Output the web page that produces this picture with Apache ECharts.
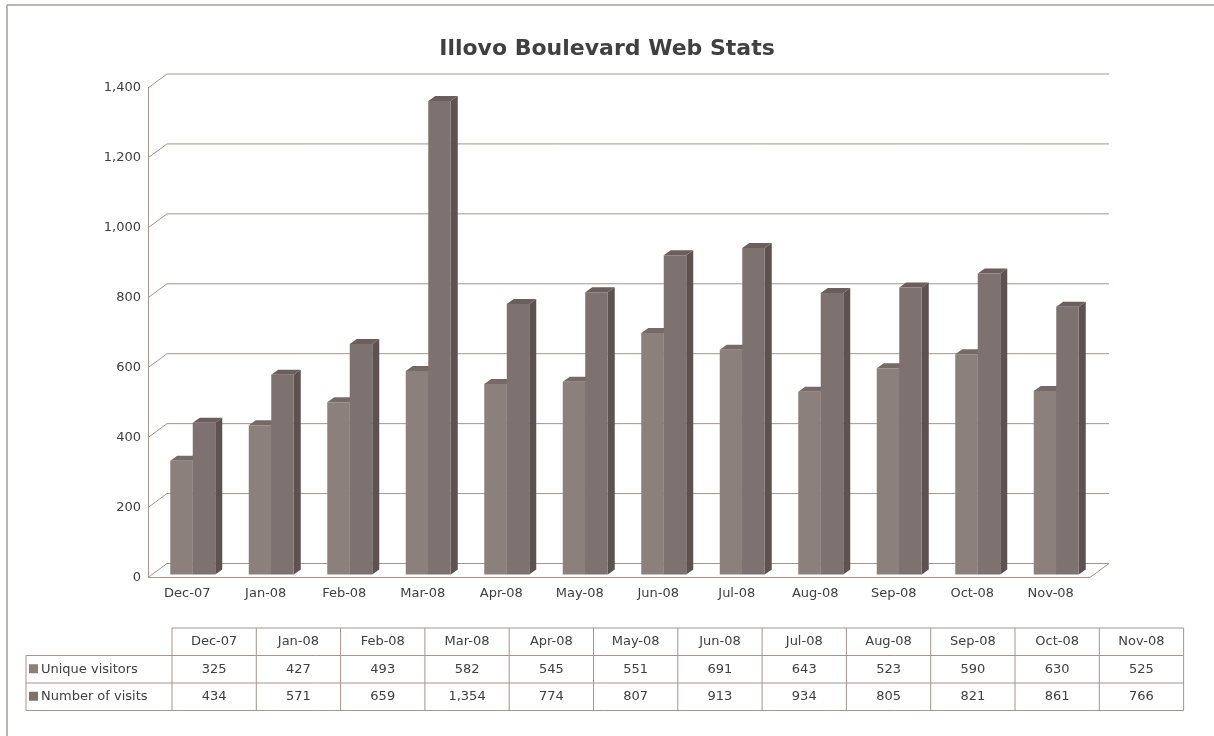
<!doctype html>
<html>
<head>
<meta charset="utf-8">
<title>Illovo Boulevard Web Stats</title>
<script src="https://cdn.jsdelivr.net/npm/echarts@6/dist/echarts.min.js"></script>
<style>
html,body{margin:0;padding:0;background:#fff;}
#chart{width:1214px;height:736px;}
</style>
</head>
<body>
<div id="chart"></div>
<script type="text/javascript">
// data
var months = ['Dec-07','Jan-08','Feb-08','Mar-08','Apr-08','May-08','Jun-08','Jul-08','Aug-08','Sep-08','Oct-08','Nov-08'];
var uniqueVisitors = [325, 427, 493, 582, 545, 551, 691, 643, 523, 590, 630, 525];
var numberOfVisits = [434, 571, 659, 1354, 774, 807, 913, 934, 805, 821, 861, 766];
var yTicks = [0, 200, 400, 600, 800, 1000, 1200, 1400];
var seriesNames = ['Unique visitors', 'Number of visits'];

var txt = '#404040';
var lineCol = '#a4958f';
var font = 'DejaVu Sans';
// 3d look: back wall offset and bar depth
var wallDx = 19, wallDy = 14;
var barW = 22.5, barShiftX = 5.5, barShiftY = 3, depthX = 7, depthY = 5;
var colors = [
	{front:'#8c807c', top:'#756a67', side:'#5d5250'},
	{front:'#7e7270', top:'#6a5f5c', side:'#5d5250'}
];

function fmt(v){
	return v.toString().replace(/\B(?=(\d{3})+(?!\d))/g, ',');
}

function wallItem(params, api){
	var cs = params.coordSys;
	var y = api.coord([0, api.value(0)])[1];
	var l = cs.x, r = cs.x + cs.width;
	var pts = [[l, y], [l + wallDx, y - wallDy], [r + wallDx, y - wallDy]];
	var kids = [{type:'polyline', shape:{points:pts}, style:{stroke:lineCol, lineWidth:1, fill:null}}];
	if (api.value(0) === 0) {
		kids.push({type:'polyline', shape:{points:[[l, y], [r, y], [r + wallDx, y - wallDy]]}, style:{stroke:lineCol, lineWidth:1, fill:null}});
	}
	return {type:'group', children:kids};
}

function barRender(s){
	return function(params, api){
		var idx = api.value(0);
		var top = api.coord([idx, api.value(1)]);
		var base = api.coord([idx, 0]);
		var x0 = top[0] + barShiftX + (s - 1) * barW;
		var x1 = x0 + barW;
		var yt = top[1] - barShiftY;
		var yb = base[1] - barShiftY;
		var c = colors[s];
		return {type:'group', children:[
			{type:'polygon', shape:{points:[[x1, yt], [x1 + depthX, yt - depthY], [x1 + depthX, yb - depthY], [x1, yb]]}, style:{fill:c.side}},
			{type:'polygon', shape:{points:[[x0, yt], [x1, yt], [x1 + depthX, yt - depthY], [x0 + depthX, yt - depthY]]}, style:{fill:c.top}},
			{type:'rect', shape:{x:x0, y:yt, width:barW, height:yb - yt}, style:{fill:c.front}}
		]};
	};
}

// data table under the chart
var tbl = {left:172, top:628, colW:84.3, rowH:27.5, labelLeft:26};
var graphics = [
	{type:'line', shape:{x1:7, y1:5, x2:1214, y2:5}, style:{stroke:'#a89c98', lineWidth:1.5}, silent:true},
	{type:'line', shape:{x1:7, y1:5, x2:7, y2:736}, style:{stroke:'#a89c98', lineWidth:1.5}, silent:true}
];
var rows = [uniqueVisitors, numberOfVisits];
var tRight = tbl.left + tbl.colW * months.length;
var tBottom = tbl.top + tbl.rowH * 3;
var tFont = '13px "' + font + '"';
// horizontal lines
graphics.push({type:'line', shape:{x1:tbl.left, y1:tbl.top, x2:tRight, y2:tbl.top}, style:{stroke:lineCol, lineWidth:1}});
for (var r = 1; r <= 3; r++) {
	graphics.push({type:'line', shape:{x1:tbl.labelLeft, y1:tbl.top + r * tbl.rowH, x2:tRight, y2:tbl.top + r * tbl.rowH}, style:{stroke:lineCol, lineWidth:1}});
}
// vertical lines
graphics.push({type:'line', shape:{x1:tbl.labelLeft, y1:tbl.top + tbl.rowH, x2:tbl.labelLeft, y2:tBottom}, style:{stroke:lineCol, lineWidth:1}});
for (var c = 0; c <= months.length; c++) {
	var xx = tbl.left + c * tbl.colW;
	graphics.push({type:'line', shape:{x1:xx, y1:tbl.top, x2:xx, y2:tBottom}, style:{stroke:lineCol, lineWidth:1}});
}
for (var i = 0; i < months.length; i++) {
	var cx = tbl.left + (i + 0.5) * tbl.colW;
	graphics.push({type:'text', x:cx, y:tbl.top + tbl.rowH / 2, style:{text:months[i], fill:txt, font:tFont, textAlign:'center', textVerticalAlign:'middle'}});
	for (var k = 0; k < rows.length; k++) {
		graphics.push({type:'text', x:cx, y:tbl.top + (k + 1.5) * tbl.rowH, style:{text:fmt(rows[k][i]), fill:txt, font:tFont, textAlign:'center', textVerticalAlign:'middle'}});
	}
}
for (var k = 0; k < rows.length; k++) {
	var ry = tbl.top + (k + 1.5) * tbl.rowH;
	graphics.push({type:'rect', shape:{x:tbl.labelLeft + 3, y:ry - 5, width:9, height:9}, style:{fill:colors[k].front}});
	graphics.push({type:'text', x:tbl.labelLeft + 15, y:ry, style:{text:seriesNames[k], fill:txt, font:tFont, textAlign:'left', textVerticalAlign:'middle'}});
}

var mychart = echarts.init(document.getElementById('chart'));
mychart.setOption({
	animation: false,
	title:{
		text:'Illovo Boulevard Web Stats',
		left:'center',
		top:33,
		textStyle:{color:txt, fontSize:22, fontWeight:'bold', fontFamily:font}
	},
	grid:{left:148, right:124, top:88, bottom:158.5},
	xAxis:{
		type:'category',
		data:months,
		axisLine:{show:false},
		axisTick:{show:false},
		axisLabel:{color:txt, fontSize:13, fontFamily:font, margin:10}
	},
	yAxis:{
		type:'value',
		min:0, max:1400, interval:200,
		axisLine:{show:true, lineStyle:{color:lineCol, width:1}},
		axisTick:{show:false},
		splitLine:{show:false},
		axisLabel:{color:txt, fontSize:13, fontFamily:font, margin:7, formatter:function(v){return fmt(v);}}
	},
	series:[
		{type:'custom', name:'wall', renderItem:wallItem, data:yTicks.map(function(v){return [v];}), silent:true, z:1},
		{type:'custom', name:seriesNames[0], renderItem:barRender(0), data:uniqueVisitors.map(function(v, i){return [i, v];}), z:2},
		{type:'custom', name:seriesNames[1], renderItem:barRender(1), data:numberOfVisits.map(function(v, i){return [i, v];}), z:3}
	],
	graphic:graphics
});
</script>
</body>
</html>
